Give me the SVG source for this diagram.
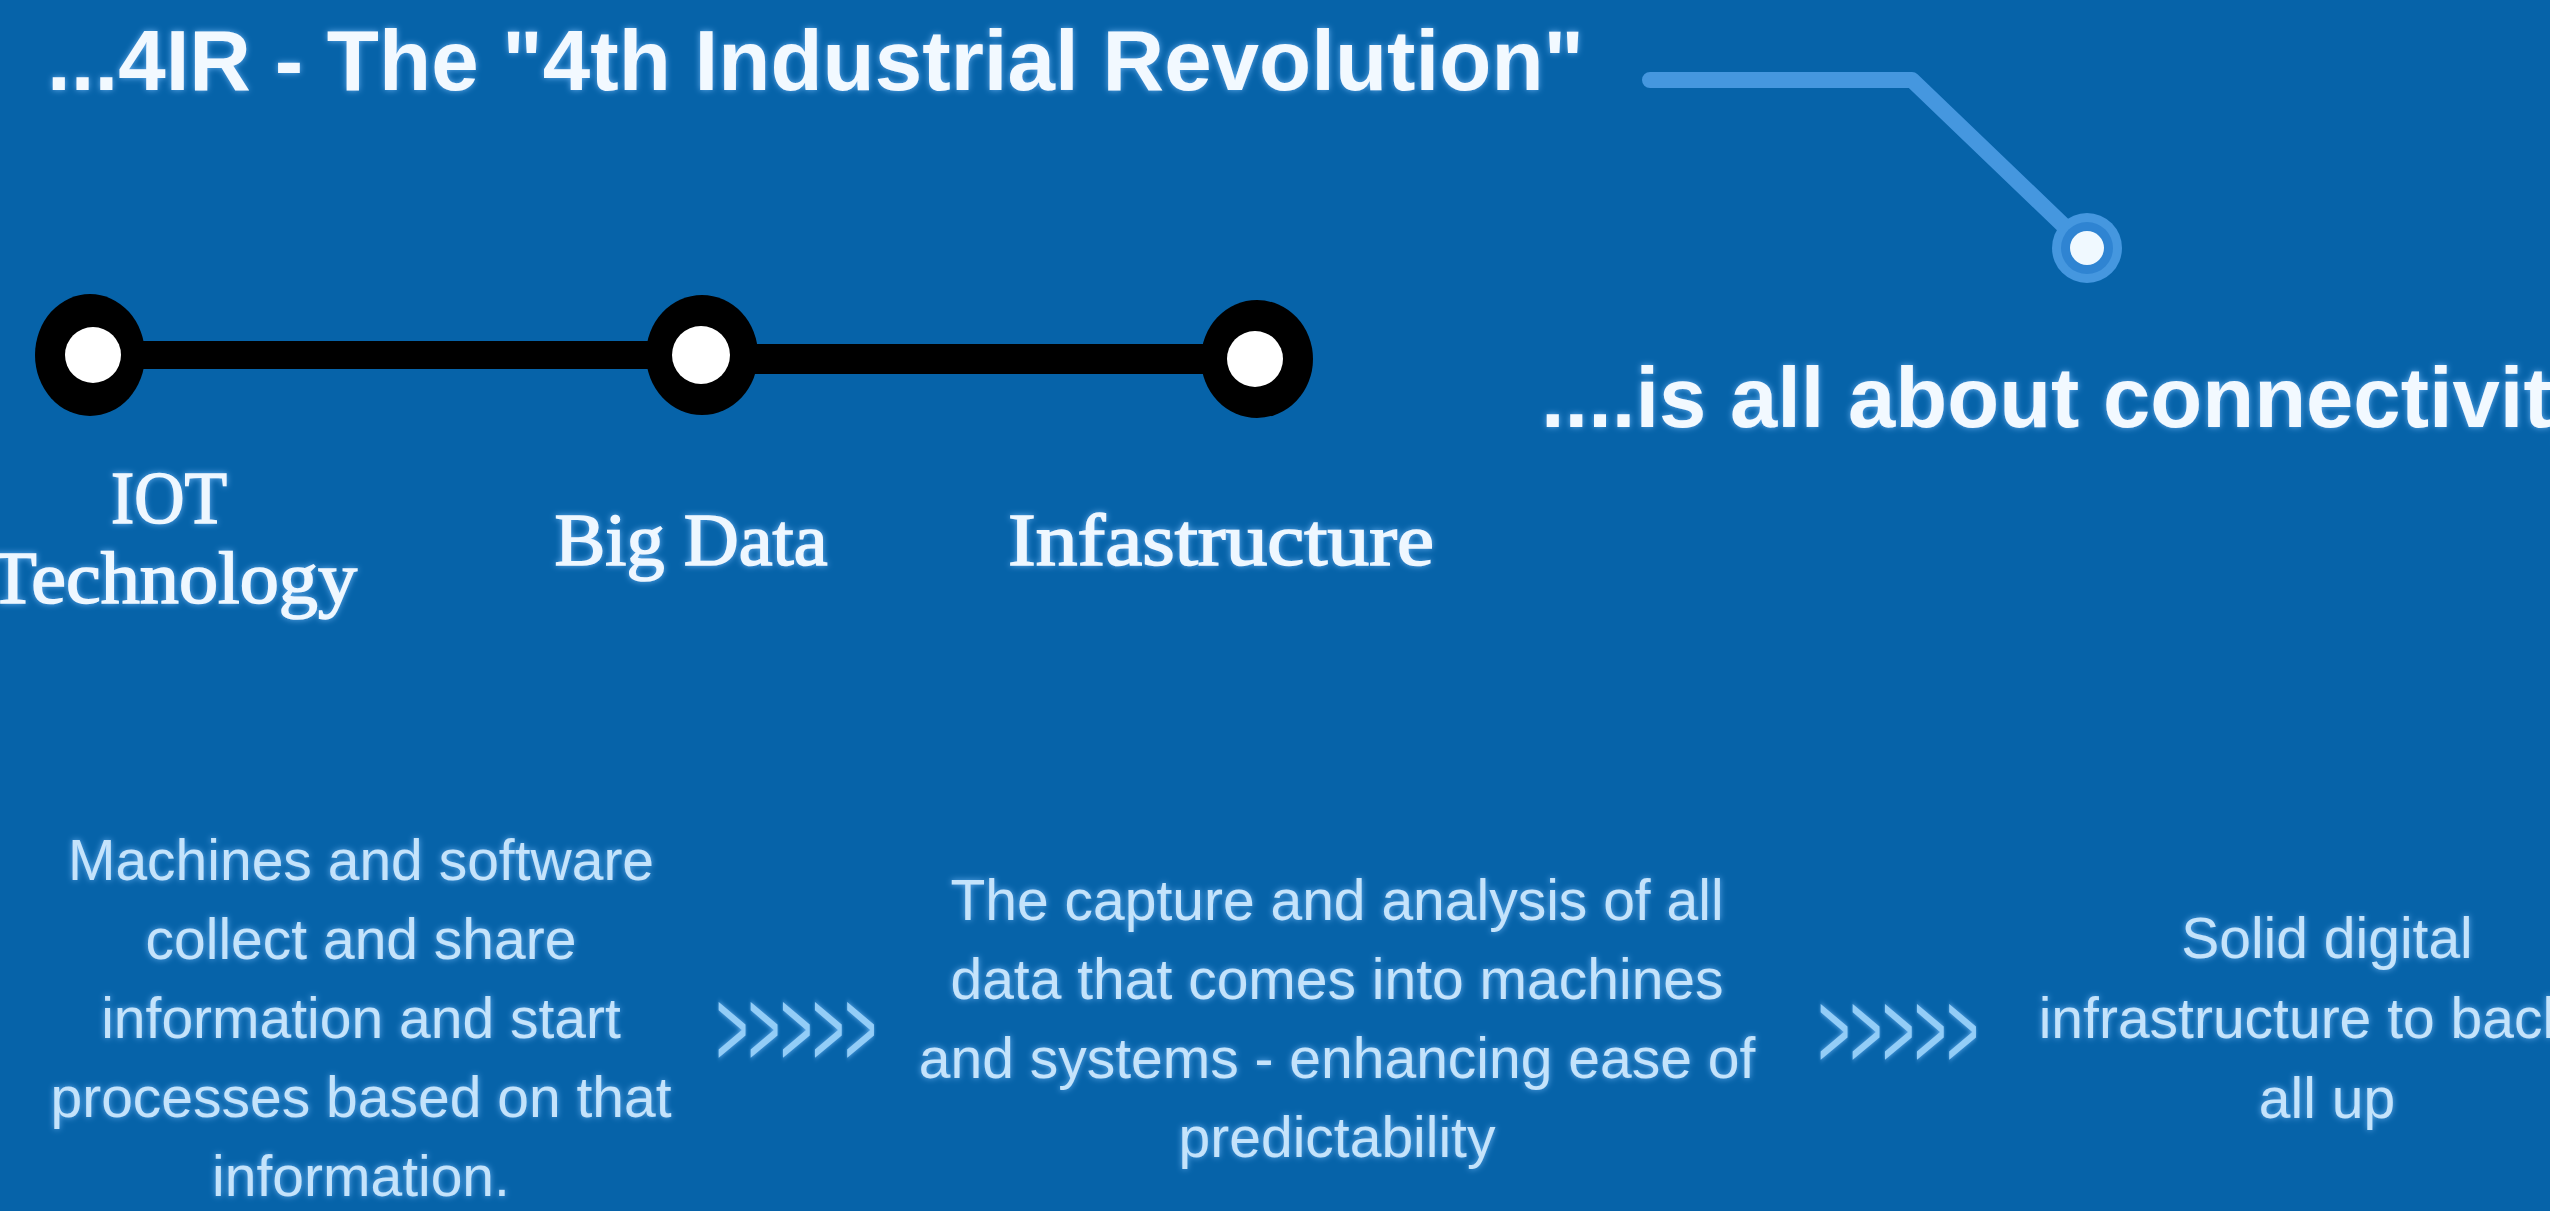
<svg xmlns="http://www.w3.org/2000/svg" width="2550" height="1211" viewBox="0 0 2550 1211">
<defs>
<filter id="glow" x="-5%" y="-20%" width="110%" height="140%">
<feGaussianBlur in="SourceAlpha" stdDeviation="3" result="b"/>
<feFlood flood-color="#7cc0ff" flood-opacity="0.8"/>
<feComposite in2="b" operator="in" result="g"/>
<feMerge><feMergeNode in="g"/><feMergeNode in="SourceGraphic"/></feMerge>
</filter>
<style>
.head{font-family:"Liberation Sans",Arial,sans-serif;font-weight:bold;font-size:85px;fill:#f2f9ff}
.lbl{font-family:"Liberation Serif","Times New Roman",serif;font-size:74px;fill:#eef7ff;stroke:#eef7ff;stroke-width:1.6px;text-anchor:middle}
.desc{font-family:"Liberation Sans",Arial,sans-serif;font-size:57px;fill:#c4e3fb;text-anchor:middle}
.chev{font-family:"Liberation Sans",Arial,sans-serif;font-size:110px;fill:#93cdf7}
.ring{fill:#000000}
.dot{fill:#ffffff}
.bar{stroke:#000000;fill:none}
.callout{stroke:#4597df;stroke-width:16;fill:none;stroke-linecap:round;stroke-linejoin:round}
</style>
</defs>
<rect width="2550" height="1211" fill="#0663a9"/>

<g id="title" filter="url(#glow)">
<text class="head" x="47" y="90" textLength="1537" lengthAdjust="spacingAndGlyphs">...4IR - The "4th Industrial Revolution"</text>
</g>

<g id="connectors">
<line class="bar" x1="93" y1="355" x2="702" y2="355" stroke-width="28"/>
<line class="bar" x1="702" y1="359" x2="1257" y2="359" stroke-width="30"/>
<polyline class="callout" points="1650,80 1912,80 2087,248"/>
<text class="chev" transform="translate(716,1066) scale(0.5,1)" filter="url(#glow)">&gt;&gt;&gt;&gt;&gt;</text>
<text class="chev" transform="translate(1818,1068) scale(0.5,1)" filter="url(#glow)">&gt;&gt;&gt;&gt;&gt;</text>
</g>

<g id="callout-dot">
<circle cx="2087" cy="248" r="35" fill="#4597df"/>
<circle cx="2087" cy="248" r="26" fill="#2f84d2"/>
<circle cx="2087" cy="248" r="17" fill="#f0f9ff"/>
</g>

<g id="subtitle" filter="url(#glow)">
<text class="head" x="1541" y="427">....is all about connectivity</text>
</g>

<g id="node-iot">
<ellipse class="ring" cx="90" cy="355" rx="55" ry="61"/>
<circle class="dot" cx="93" cy="355" r="28"/>
<g filter="url(#glow)">
<text class="lbl" x="169" y="523" textLength="116" lengthAdjust="spacingAndGlyphs">IOT</text>
<text class="lbl" x="173" y="603" textLength="368" lengthAdjust="spacingAndGlyphs">Technology</text>
</g>
</g>

<g id="node-bigdata">
<ellipse class="ring" cx="702" cy="355" rx="56" ry="60"/>
<circle class="dot" cx="701" cy="355" r="29"/>
<text class="lbl" x="691" y="565" textLength="273" lengthAdjust="spacingAndGlyphs" filter="url(#glow)">Big Data</text>
</g>

<g id="node-infrastructure">
<ellipse class="ring" cx="1257" cy="359" rx="56" ry="59"/>
<circle class="dot" cx="1255" cy="359" r="28"/>
<text class="lbl" x="1221" y="565" textLength="426" lengthAdjust="spacingAndGlyphs" filter="url(#glow)">Infastructure</text>
</g>

<g id="desc-iot" filter="url(#glow)">
<text class="desc" x="361" y="880">Machines and software</text>
<text class="desc" x="361" y="959">collect and share</text>
<text class="desc" x="361" y="1038">information and start</text>
<text class="desc" x="361" y="1117">processes based on that</text>
<text class="desc" x="361" y="1196">information.</text>
</g>

<g id="desc-bigdata" filter="url(#glow)">
<text class="desc" x="1337" y="920">The capture and analysis of all</text>
<text class="desc" x="1337" y="999">data that comes into machines</text>
<text class="desc" x="1337" y="1078">and systems - enhancing ease of</text>
<text class="desc" x="1337" y="1157">predictability</text>
</g>

<g id="desc-infrastructure" filter="url(#glow)">
<text class="desc" x="2327" y="958">Solid digital</text>
<text class="desc" x="2327" y="1038">infrastructure to back it</text>
<text class="desc" x="2327" y="1118">all up</text>
</g>
</svg>
